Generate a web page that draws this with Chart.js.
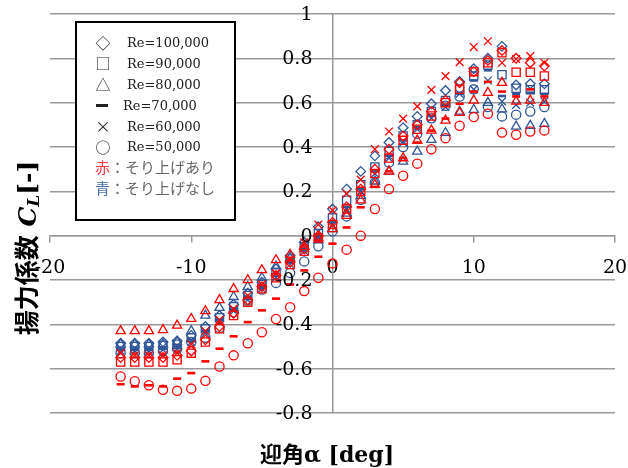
<!DOCTYPE html>
<html>
<head>
<meta charset="utf-8">
<script src="https://cdn.jsdelivr.net/npm/chart.js@4.4.0/dist/chart.umd.min.js"></script>
<style>
  html, body { margin: 0; padding: 0; background: #fff; }
  #wrap { width: 628px; height: 468px; }
</style>
</head>
<body>
<div id="wrap"><canvas id="chart" width="628" height="468"></canvas></div>
<script>
// 迎角 [deg]
const angles = [-15,-14,-13,-12,-11,-10,-9,-8,-7,-6,-5,-4,-3,-2,-1,0,1,2,3,4,5,6,7,8,9,10,11,12,13,14,15];

// 赤：そり上げあり
const red100 = [-0.55,-0.55,-0.55,-0.55,-0.54,-0.52,-0.47,-0.41,-0.35,-0.29,-0.23,-0.18,-0.12,-0.06,0.0,0.06,0.13,0.21,0.30,0.39,0.45,0.50,0.56,0.61,0.69,0.74,0.79,0.835,0.80,0.78,0.765];
const red90  = [-0.57,-0.57,-0.57,-0.57,-0.56,-0.53,-0.48,-0.42,-0.36,-0.30,-0.24,-0.19,-0.13,-0.07,-0.01,0.05,0.12,0.20,0.28,0.35,0.43,0.48,0.54,0.60,0.66,0.74,0.78,0.825,0.737,0.737,0.72];
const red80  = [-0.43,-0.43,-0.43,-0.425,-0.405,-0.375,-0.34,-0.29,-0.24,-0.20,-0.155,-0.11,-0.085,-0.05,-0.01,0.03,0.09,0.16,0.23,0.29,0.35,0.43,0.475,0.52,0.555,0.61,0.645,0.69,0.605,0.61,0.60];
const red70  = [-0.67,-0.68,-0.675,-0.68,-0.645,-0.62,-0.567,-0.51,-0.454,-0.39,-0.337,-0.284,-0.22,-0.157,-0.095,-0.036,0.037,0.128,0.22,0.29,0.35,0.42,0.474,0.528,0.595,0.65,0.694,0.65,0.628,0.66,0.628];
const red60  = [-0.53,-0.54,-0.54,-0.54,-0.53,-0.49,-0.43,-0.38,-0.33,-0.27,-0.22,-0.17,-0.11,-0.03,0.05,0.114,0.19,0.253,0.39,0.47,0.528,0.583,0.658,0.72,0.783,0.851,0.877,0.78,0.797,0.81,0.78];
const red50  = [-0.635,-0.657,-0.675,-0.695,-0.70,-0.69,-0.655,-0.59,-0.54,-0.485,-0.436,-0.376,-0.323,-0.25,-0.19,-0.125,-0.063,0.0,0.12,0.21,0.27,0.325,0.39,0.44,0.496,0.535,0.55,0.465,0.455,0.47,0.475];

// 青：そり上げなし
const blue100 = [-0.485,-0.485,-0.485,-0.48,-0.475,-0.45,-0.41,-0.36,-0.31,-0.26,-0.21,-0.15,-0.09,-0.03,0.04,0.12,0.21,0.29,0.36,0.42,0.487,0.538,0.595,0.655,0.696,0.753,0.80,0.854,0.68,0.685,0.685];
const blue90  = [-0.50,-0.50,-0.50,-0.495,-0.49,-0.46,-0.42,-0.37,-0.32,-0.27,-0.22,-0.165,-0.105,-0.05,0.01,0.08,0.16,0.23,0.31,0.38,0.45,0.50,0.56,0.61,0.66,0.72,0.77,0.726,0.665,0.658,0.658];
const blue80  = [-0.49,-0.49,-0.49,-0.49,-0.48,-0.43,-0.36,-0.325,-0.276,-0.23,-0.19,-0.138,-0.10,-0.06,-0.02,0.03,0.10,0.18,0.245,0.29,0.335,0.38,0.433,0.464,0.56,0.568,0.60,0.57,0.493,0.496,0.505];
const blue70  = [-0.51,-0.51,-0.51,-0.505,-0.50,-0.47,-0.43,-0.38,-0.33,-0.28,-0.23,-0.18,-0.12,-0.06,0.0,0.06,0.13,0.21,0.29,0.36,0.43,0.49,0.54,0.59,0.64,0.70,0.746,0.63,0.64,0.645,0.64];
const blue60  = [-0.52,-0.52,-0.52,-0.515,-0.51,-0.48,-0.44,-0.39,-0.34,-0.29,-0.24,-0.19,-0.13,-0.07,-0.01,0.05,0.12,0.20,0.28,0.35,0.42,0.48,0.53,0.58,0.64,0.66,0.70,0.606,0.59,0.60,0.606];
const blue50  = [-0.53,-0.53,-0.53,-0.52,-0.51,-0.48,-0.46,-0.416,-0.346,-0.293,-0.243,-0.213,-0.168,-0.116,-0.048,0.02,0.087,0.162,0.24,0.33,0.40,0.46,0.53,0.586,0.628,0.66,0.58,0.538,0.546,0.56,0.58];

const legendLines = ['Re=100,000', 'Re=90,000', 'Re=80,000', 'Re=70,000', 'Re=60,000', 'Re=50,000'];
const legendMarks = ['◇', '□', '△', '', '×', '○'];

const RED = '#ff0000';
const BLUE = '#2f5597';

// 系列ごとのマーカー
function makeSet(label, values, color, style, radius, width) {
  return {
    label,
    data: angles.map((a, i) => ({ x: a, y: values[i] })),
    pointStyle: style,
    pointRadius: radius,
    pointHoverRadius: radius,
    pointBorderWidth: width,
    borderColor: color,
    backgroundColor: 'rgba(0,0,0,0)',
    showLine: false
  };
}

const datasets = [
  makeSet('赤 Re=60,000', red60, RED, 'crossRot', 5.5, 1.3),
  makeSet('赤 Re=100,000', red100, RED, 'rectRot', 4.8, 1.3),
  makeSet('赤 Re=90,000', red90, RED, 'rect', 5.8, 1.3),
  makeSet('赤 Re=80,000', red80, RED, 'triangle', 5.3, 1.3),
  makeSet('赤 Re=70,000', red70, RED, 'line', 4, 2.6),
  makeSet('赤 Re=50,000', red50, RED, 'circle', 4.6, 1.3),
  makeSet('青 Re=100,000', blue100, BLUE, 'rectRot', 4.8, 1.3),
  makeSet('青 Re=90,000', blue90, BLUE, 'rect', 5.8, 1.3),
  makeSet('青 Re=80,000', blue80, BLUE, 'triangle', 5.3, 1.3),
  makeSet('青 Re=70,000', blue70, BLUE, 'line', 4, 2.6),
  makeSet('青 Re=60,000', blue60, BLUE, 'crossRot', 5.5, 1.3),
  makeSet('青 Re=50,000', blue50, BLUE, 'circle', 4.6, 1.3)
];

const SERIF = '"DejaVu Serif", "Noto Sans CJK JP", serif';
const JP = '"Noto Sans CJK JP", sans-serif';

// 凡例の枠・y目盛ラベル・軸タイトルを手描き
const overlay = {
  id: 'overlay',
  beforeDraw(chart) {
    const ctx = chart.ctx;
    ctx.save();
    ctx.fillStyle = '#fff';
    ctx.fillRect(0, 0, chart.width, chart.height);
    ctx.restore();
  },
  afterDraw(chart) {
    const ctx = chart.ctx;
    const xs = chart.scales.x;
    const ys = chart.scales.y;
    ctx.save();

    // y目盛ラベル (縦軸の左側)
    ctx.fillStyle = '#000';
    ctx.font = '19px ' + SERIF;
    ctx.textAlign = 'right';
    ctx.textBaseline = 'middle';
    const axisX = xs.getPixelForValue(0);
    ys.ticks.forEach(t => {
      ctx.fillText(String(Math.round(t.value * 10) / 10), axisX - 20, ys.getPixelForValue(t.value) + 1);
    });

    // 凡例ボックス
    ctx.fillStyle = '#fff';
    ctx.fillRect(76, 22, 159, 198);
    ctx.strokeStyle = '#000';
    ctx.lineWidth = 2;
    ctx.strokeRect(76, 22, 159, 198);

    const rows = [43, 63.5, 84.5, 105.5, 126.5, 147];
    ctx.textBaseline = 'middle';
    rows.forEach((y, i) => {
      ctx.fillStyle = '#222';
      if (legendMarks[i]) {
        ctx.font = '15px ' + JP;
        ctx.textAlign = 'center';
        ctx.fillText(legendMarks[i], 103, y);
        ctx.textAlign = 'left';
        ctx.font = '13px ' + SERIF;
        ctx.fillText(legendLines[i], 127, y + 1);
      } else {
        ctx.fillRect(96, y - 1.5, 12, 3);
        ctx.textAlign = 'left';
        ctx.font = '13px ' + SERIF;
        ctx.fillText(legendLines[i], 123, y + 1);
      }
    });

    ctx.font = '15px ' + JP;
    ctx.textAlign = 'left';
    ctx.fillStyle = '#ff3b3b';
    ctx.fillText('赤', 95, 167);
    ctx.fillStyle = '#4a6fa5';
    ctx.fillText('青', 95, 188);
    ctx.fillStyle = '#666';
    ctx.fillText('：そり上げあり', 110, 167);
    ctx.fillText('：そり上げなし', 110, 188);

    // x軸タイトル
    ctx.fillStyle = '#000';
    ctx.textAlign = 'center';
    ctx.textBaseline = 'alphabetic';
    ctx.font = 'bold 22px ' + SERIF;
    ctx.fillText('迎角α [deg]', 327, 462);

    // y軸タイトル
    ctx.translate(36, 248);
    ctx.rotate(-Math.PI / 2);
    const p1 = '揚力係数 ';
    const p4 = '[-]';
    ctx.font = 'bold 25px ' + SERIF;
    const w1 = ctx.measureText(p1).width;
    const w4 = ctx.measureText(p4).width;
    ctx.font = 'italic bold 25px ' + SERIF;
    const w2 = ctx.measureText('C').width;
    ctx.font = 'italic bold 17px ' + SERIF;
    const w3 = ctx.measureText('L').width;
    let x = -(w1 + w2 + w3 + w4) / 2;
    ctx.textAlign = 'left';
    ctx.font = 'bold 25px ' + SERIF;
    ctx.fillText(p1, x, 0);
    x += w1;
    ctx.font = 'italic bold 25px ' + SERIF;
    ctx.fillText('C', x, 0);
    x += w2;
    ctx.font = 'italic bold 17px ' + SERIF;
    ctx.fillText('L', x, 3);
    x += w3;
    ctx.font = 'bold 25px ' + SERIF;
    ctx.fillText(p4, x, 0);

    ctx.restore();
  }
};

// 軸は原点で交差させ、余白は取らない
function noSpace(s) {
  if (s.isHorizontal()) s.height = 0; else s.width = 0;
  s.paddingTop = 0;
  s.paddingBottom = 0;
  s.paddingLeft = 0;
  s.paddingRight = 0;
}

new Chart(document.getElementById('chart').getContext('2d'), {
  type: 'scatter',
  data: { datasets },
  options: {
    responsive: false,
    animation: false,
    devicePixelRatio: 1,
    layout: { padding: { left: 50, right: 13, top: 14, bottom: 55 } },
    plugins: {
      legend: { display: false },
      tooltip: { enabled: false }
    },
    scales: {
      x: {
        type: 'linear',
        min: -20,
        max: 20,
        position: { y: 0 },
        afterFit: noSpace,
        ticks: {
          stepSize: 10,
          color: '#000',
          padding: 15,
          font: { family: SERIF, size: 19 }
        },
        grid: { drawOnChartArea: false, drawTicks: true, tickLength: 6, color: '#999', lineWidth: 1.5 },
        border: { color: '#999', width: 1.5 }
      },
      y: {
        type: 'linear',
        min: -0.8,
        max: 1,
        position: { x: 0 },
        afterFit: noSpace,
        ticks: { stepSize: 0.2, display: false },
        grid: { drawTicks: false, color: '#999', lineWidth: 1.5 },
        border: { color: '#999', width: 1.5 }
      }
    }
  },
  plugins: [overlay]
});
</script>
</body>
</html>
